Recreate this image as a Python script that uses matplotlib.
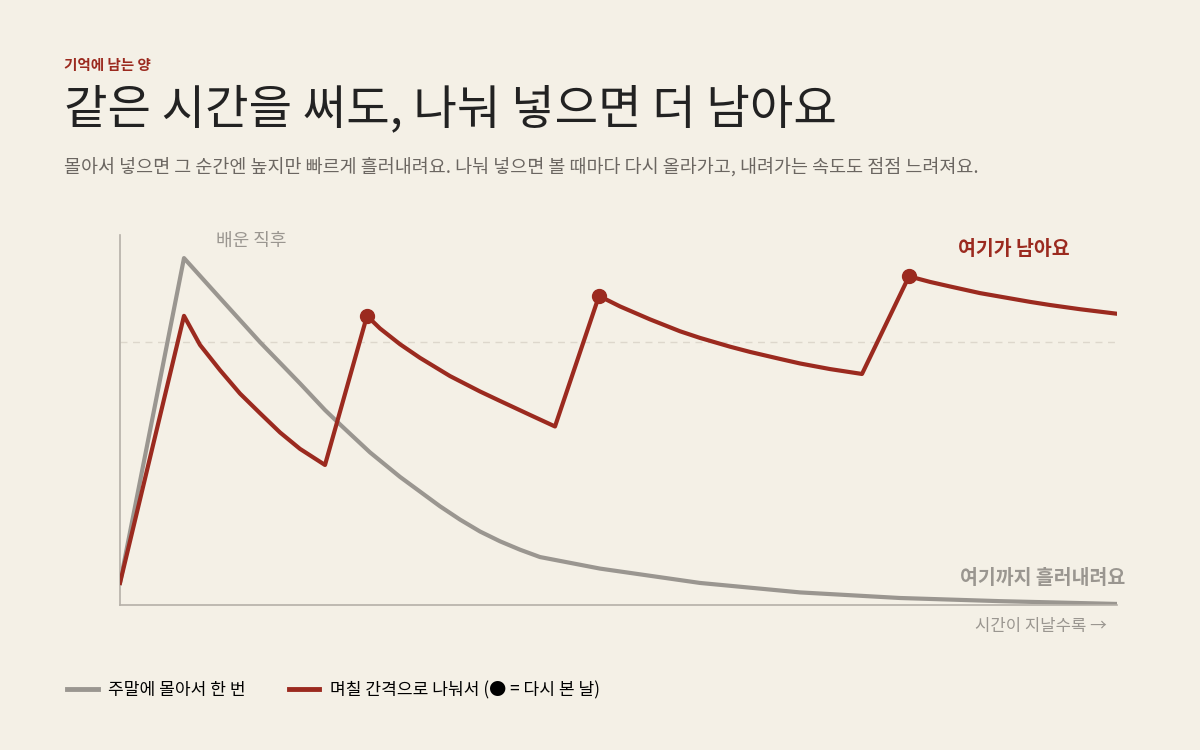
import matplotlib
matplotlib.use("Agg")
import matplotlib.pyplot as plt
from matplotlib.lines import Line2D

plt.rcParams['font.family'] = ['Noto Sans CJK KR', 'DejaVu Sans']

gray_t = [0, 6.4, 10, 14, 18, 20.5, 22, 25, 28, 30, 32, 34, 36, 38, 40, 42, 48, 58, 68, 78, 88, 99.7]
gray_v = [6.3, 99.1, 87.7, 75.1, 63.3, 55.7, 51.6, 43.6, 36.6, 32.4, 28.2, 24.4, 21, 18.2, 15.8, 13.7, 10.4, 6.3, 3.6, 2, 1.1, 0.3]
red_t = [0, 6.4, 8, 10, 12, 14, 16, 18, 20.5, 24.7, 26, 28, 30, 33, 36, 38, 41, 43.5, 47.9, 50, 53, 56, 58, 61, 63, 66, 68, 71, 74.2,
         78.9, 81, 83, 86, 88, 91, 93, 96, 99.7]
red_v = [6.3, 82.6, 74.3, 67.1, 60.4, 54.8, 49.3, 44.6, 40, 82.6, 79, 74.5, 70.6, 65.4, 61, 58.3, 54.3, 51, 88.3, 85.3, 81.6, 78.2, 76.3,
         73.8, 72.3, 70.3, 69, 67.4, 66, 93.9, 92.3, 91, 89.1, 88.1, 86.6, 85.7, 84.5, 83.2]
review_t = [24.7, 47.9, 78.9]
review_v = [82.6, 88.3, 93.9]
ref_level = 75

BG = '#f4f0e6'; RED = '#9b2a1f'; GRAY = '#9a9690'; TXT = '#222222'; SUB = '#6b6661'

fig = plt.figure(figsize=(12, 7.5), dpi=100, facecolor=BG)
ax = fig.add_axes([0.1, 1 - 605/750, (1117-120)/1200, (605-235)/750])
ax.set_facecolor(BG)
ax.set_xlim(0, 99.7); ax.set_ylim(0, 105.7)
for s in ['top', 'right']:
    ax.spines[s].set_visible(False)
for s in ['left', 'bottom']:
    ax.spines[s].set_color('#b5b0a8'); ax.spines[s].set_linewidth(1.2)
ax.set_xticks([]); ax.set_yticks([])
ax.axhline(ref_level, color='#ddd7cc', lw=1, ls=(0, (5, 4)), zorder=1)
ax.plot(gray_t, gray_v, color=GRAY, lw=3, solid_joinstyle='round', zorder=2)
ax.plot(red_t, red_v, color=RED, lw=3, solid_joinstyle='round', zorder=3)
ax.scatter(review_t, review_v, s=100, color=RED, zorder=4)

fig.text(64/1200, 1-65/750, '기억에 남는 양', color=RED, fontsize=10.5, fontweight='bold', va='center')
fig.text(64/1200, 1-110/750, '같은 시간을 써도, 나눠 넣으면 더 남아요', color=TXT, fontsize=34, va='center')
fig.text(64/1200, 1-167/750, '몰아서 넣으면 그 순간엔 높지만 빠르게 흘러내려요. 나눠 넣으면 볼 때마다 다시 올라가고, 내려가는 속도도 점점 느려져요.',
         color=SUB, fontsize=13.3, va='center')
fig.text(216/1200, 1-241/750, '배운 직후', color=GRAY, fontsize=13, va='center')
fig.text(1070/1200, 1-250/750, '여기가 남아요', color=RED, fontsize=14, fontweight='bold', va='center', ha='right')
fig.text(1125/1200, 1-578/750, '여기까지 흘러내려요', color=GRAY, fontsize=14, fontweight='bold', va='center', ha='right')
fig.text(1107/1200, 1-627/750, '시간이 지날수록 →', color=GRAY, fontsize=12, va='center', ha='right')

handles = [Line2D([], [], color=GRAY, lw=3.5), Line2D([], [], color=RED, lw=3.5)]
fig.legend(handles, ['주말에 몰아서 한 번', '며칠 간격으로 나눠서 (● = 다시 본 날)'], loc='center left',
           bbox_to_anchor=(52/1200, 1-690/750), ncol=2, frameon=False, fontsize=12.3,
           handlelength=1.8, columnspacing=2.5, handletextpad=0.6)

fig.savefig('out.png', dpi=100, facecolor=BG)
